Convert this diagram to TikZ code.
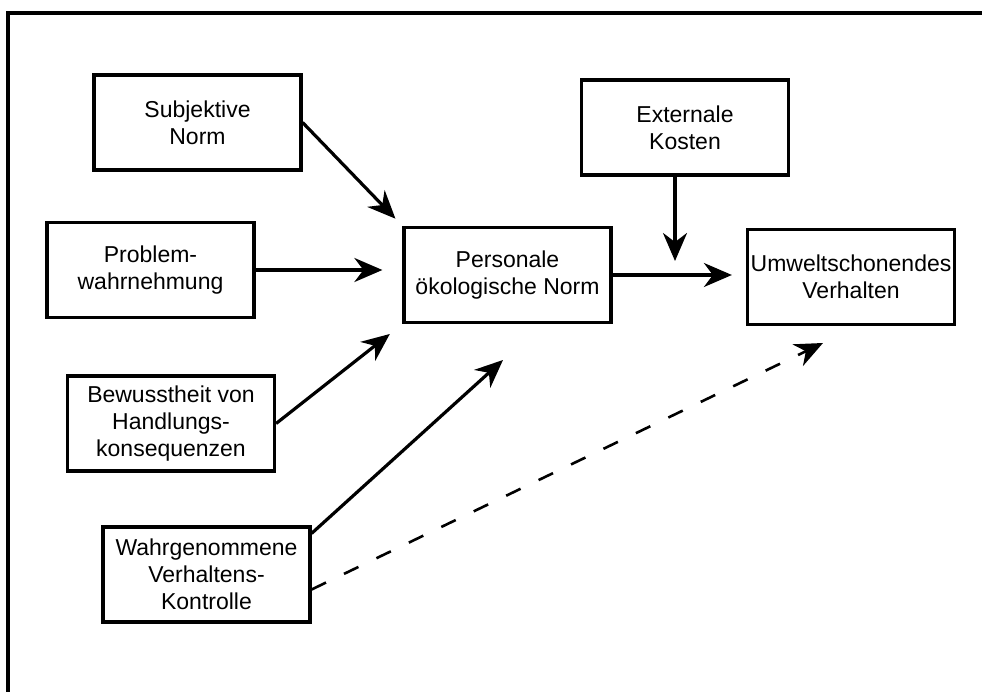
\documentclass[tikz,border=0pt]{standalone}
\usepackage{fontspec}
\setmainfont{Liberation Sans}
\usetikzlibrary{arrows.meta,
                calc,
                positioning}

\begin{document}
\begin{tikzpicture}[x=1pt, y=-1pt, line width=3.2pt, >={Stealth[length=28pt, width=24pt, inset=9pt]}]

\useasboundingbox (0,0) rectangle (982,692);

%\draw (8,13) rectangle (982,692);
\draw (8,692) -- (8,13) -- (982,13);

\begin{scope}[ res/.style = {rectangle, draw, minimum height=95pt, minimum width=207pt, inner sep=2pt, align=center, font=\fontsize{23}{27}\selectfont}]
    \node[res] (1) at (197.5,122.5) {Subjektive\\Norm};
    \node[res] (2) at (150.5,270) {Problem-\\wahrnehmung};
    \node[res] (3) at (171,423.5) {Bewusstheit von\\Handlungs-\\konsequenzen};
    \node[res] (4) at (206.5,574.5) {Wahrgenommene\\Verhaltens-\\Kontrolle};
    \node[res] (5) at (507.5,275) {Personale\\ökologische Norm};
    \node[res] (6) at (685,127.5) {Externale\\Kosten};
    \node[res] (7) at (851,277) {Umweltschonendes\\Verhalten};
\end{scope}

\coordinate (t4) at (503,360);
\coordinate (t7) at (823,343);

\begin{scope}
    \draw[->, shorten >=10pt] (1.east) -- (5.north west);
    \draw[->, shorten >=20pt] (2.east) -- (2.east -| 5.west);
    \draw[->, shorten >=16pt] (3.east) -- (5.south west);
    \draw[->] ($(4.north east)+(0,8)$) -- (t4);
    \draw[->, line width=2.6pt, dash pattern=on 16pt off 20pt] ($(4.east)+(0,15)$) -- (t7);
    \draw[->, shorten >=14pt] ([xshift=-10pt]6.south) -- ([xshift=-10pt]6.south |- 5.east);
    \draw[->, shorten >=14pt] (5.east) -- (5.east -| 7.west);
\end{scope}

\end{tikzpicture}
\end{document}
